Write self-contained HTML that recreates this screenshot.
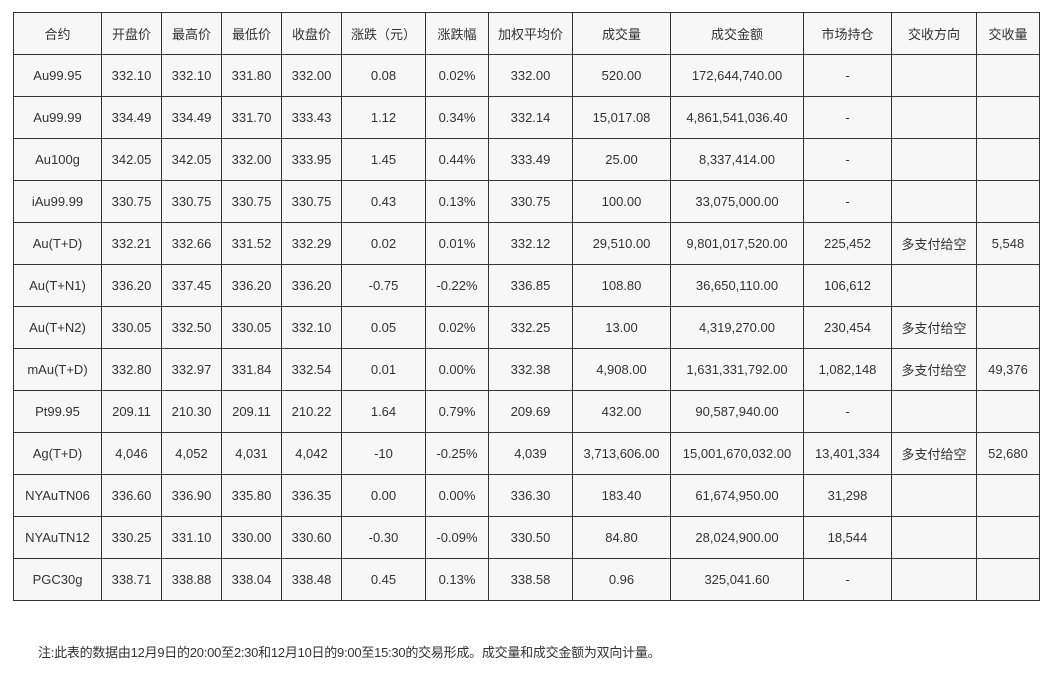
<!DOCTYPE html>
<html>
<head>
<meta charset="utf-8">
<style>
  html,body{margin:0;padding:0;background:#fff;}
  body{width:1053px;height:676px;position:relative;overflow:hidden;
    font-family:"Liberation Sans","Noto Sans CJK SC",sans-serif;font-size:13px;color:#333;}
  .grid{position:absolute;left:13px;top:12px;display:grid;
    grid-template-columns:87px 59px 59px 59px 59px 83px 62px 83px 97px 132px 87px 84px 62px;
    grid-auto-rows:41px;gap:1px;padding:1px;background:#333;}
  .grid div{background:#f7f7f7;display:flex;align-items:center;justify-content:center;white-space:nowrap;}
  .note{position:absolute;left:38px;top:644px;line-height:18px;white-space:nowrap;letter-spacing:-0.25px;}
</style>
</head>
<body>
<div class="grid">
  <div>合约</div><div>开盘价</div><div>最高价</div><div>最低价</div><div>收盘价</div><div>涨跌（元）</div><div>涨跌幅</div><div>加权平均价</div><div>成交量</div><div>成交金额</div><div>市场持仓</div><div>交收方向</div><div>交收量</div>

  <div>Au99.95</div><div>332.10</div><div>332.10</div><div>331.80</div><div>332.00</div><div>0.08</div><div>0.02%</div><div>332.00</div><div>520.00</div><div>172,644,740.00</div><div>-</div><div></div><div></div>

  <div>Au99.99</div><div>334.49</div><div>334.49</div><div>331.70</div><div>333.43</div><div>1.12</div><div>0.34%</div><div>332.14</div><div>15,017.08</div><div>4,861,541,036.40</div><div>-</div><div></div><div></div>

  <div>Au100g</div><div>342.05</div><div>342.05</div><div>332.00</div><div>333.95</div><div>1.45</div><div>0.44%</div><div>333.49</div><div>25.00</div><div>8,337,414.00</div><div>-</div><div></div><div></div>

  <div>iAu99.99</div><div>330.75</div><div>330.75</div><div>330.75</div><div>330.75</div><div>0.43</div><div>0.13%</div><div>330.75</div><div>100.00</div><div>33,075,000.00</div><div>-</div><div></div><div></div>

  <div>Au(T+D)</div><div>332.21</div><div>332.66</div><div>331.52</div><div>332.29</div><div>0.02</div><div>0.01%</div><div>332.12</div><div>29,510.00</div><div>9,801,017,520.00</div><div>225,452</div><div>多支付给空</div><div>5,548</div>

  <div>Au(T+N1)</div><div>336.20</div><div>337.45</div><div>336.20</div><div>336.20</div><div>-0.75</div><div>-0.22%</div><div>336.85</div><div>108.80</div><div>36,650,110.00</div><div>106,612</div><div></div><div></div>

  <div>Au(T+N2)</div><div>330.05</div><div>332.50</div><div>330.05</div><div>332.10</div><div>0.05</div><div>0.02%</div><div>332.25</div><div>13.00</div><div>4,319,270.00</div><div>230,454</div><div>多支付给空</div><div></div>

  <div>mAu(T+D)</div><div>332.80</div><div>332.97</div><div>331.84</div><div>332.54</div><div>0.01</div><div>0.00%</div><div>332.38</div><div>4,908.00</div><div>1,631,331,792.00</div><div>1,082,148</div><div>多支付给空</div><div>49,376</div>

  <div>Pt99.95</div><div>209.11</div><div>210.30</div><div>209.11</div><div>210.22</div><div>1.64</div><div>0.79%</div><div>209.69</div><div>432.00</div><div>90,587,940.00</div><div>-</div><div></div><div></div>

  <div>Ag(T+D)</div><div>4,046</div><div>4,052</div><div>4,031</div><div>4,042</div><div>-10</div><div>-0.25%</div><div>4,039</div><div>3,713,606.00</div><div>15,001,670,032.00</div><div>13,401,334</div><div>多支付给空</div><div>52,680</div>

  <div>NYAuTN06</div><div>336.60</div><div>336.90</div><div>335.80</div><div>336.35</div><div>0.00</div><div>0.00%</div><div>336.30</div><div>183.40</div><div>61,674,950.00</div><div>31,298</div><div></div><div></div>

  <div>NYAuTN12</div><div>330.25</div><div>331.10</div><div>330.00</div><div>330.60</div><div>-0.30</div><div>-0.09%</div><div>330.50</div><div>84.80</div><div>28,024,900.00</div><div>18,544</div><div></div><div></div>

  <div>PGC30g</div><div>338.71</div><div>338.88</div><div>338.04</div><div>338.48</div><div>0.45</div><div>0.13%</div><div>338.58</div><div>0.96</div><div>325,041.60</div><div>-</div><div></div><div></div>
</div>
<div class="note">注:此表的数据由12月9日的20:00至2:30和12月10日的9:00至15:30的交易形成。成交量和成交金额为双向计量。</div>
</body>
</html>
